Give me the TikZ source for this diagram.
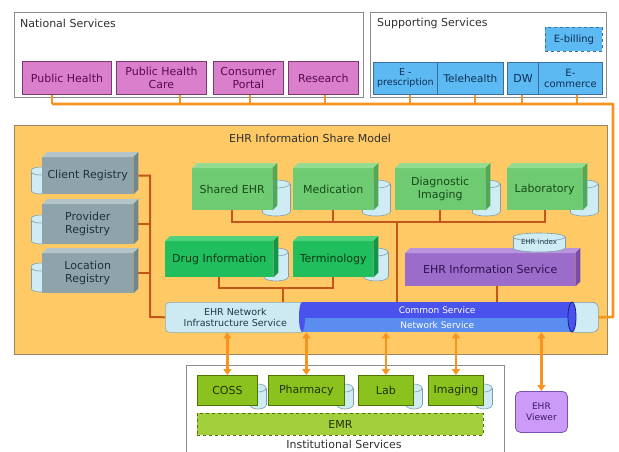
\documentclass[tikz,border=0pt]{standalone}
\usepackage{fontspec}
\setmainfont{DejaVu Sans}
\usetikzlibrary{arrows.meta}
\definecolor{framegray}{HTML}{8C8C8C}
\definecolor{titletext}{HTML}{303030}
\definecolor{pinkfill}{HTML}{D97FCB}
\definecolor{pinkline}{HTML}{7A3A70}
\definecolor{pinktext}{HTML}{5A0A50}
\definecolor{bluefill}{HTML}{5DB9F2}
\definecolor{blueline}{HTML}{3A6E9E}
\definecolor{bluetext}{HTML}{0D2F55}
\definecolor{orangeline}{HTML}{F7931E}
\definecolor{ehrfill}{HTML}{FFC966}
\definecolor{ehrline}{HTML}{9E8662}
\definecolor{regfront}{HTML}{8EA4AA}
\definecolor{regtop}{HTML}{B4C4C8}
\definecolor{regside}{HTML}{6F878D}
\definecolor{regtext}{HTML}{1F323C}
\definecolor{gfront}{HTML}{6FCB72}
\definecolor{gtop}{HTML}{93DC92}
\definecolor{gside}{HTML}{4FA956}
\definecolor{gtext}{HTML}{174A1C}
\definecolor{dfront}{HTML}{20BE5C}
\definecolor{dtop}{HTML}{4FD27C}
\definecolor{dside}{HTML}{149447}
\definecolor{dtext}{HTML}{0B3A1A}
\definecolor{pfront}{HTML}{9C6CCB}
\definecolor{ptop}{HTML}{B995DD}
\definecolor{pside}{HTML}{7A4BAA}
\definecolor{ptext}{HTML}{2E1250}
\definecolor{cylfill}{HTML}{CFEBF3}
\definecolor{cylline}{HTML}{7F9EAC}
\definecolor{brownline}{HTML}{C4561B}
\definecolor{netfill}{HTML}{CDE9F1}
\definecolor{netline}{HTML}{8AA9B5}
\definecolor{nettext}{HTML}{1E3A4A}
\definecolor{commonfill}{HTML}{4A52EE}
\definecolor{netwfill}{HTML}{5B8DF1}
\definecolor{darkblue}{HTML}{1A2080}
\definecolor{ifill}{HTML}{8CC21E}
\definecolor{iline}{HTML}{4F7400}
\definecolor{itext}{HTML}{1F3300}
\definecolor{emrfill}{HTML}{A3CF3C}
\definecolor{vfill}{HTML}{CC9BF8}
\definecolor{vline}{HTML}{7E52B0}
\definecolor{vtext}{HTML}{3E1A66}
% drum: x centre, top y, width, height
\newcommand\drumcyl[4]{%
  \filldraw[fill=cylfill,draw=cylline,line width=0.6pt] (#1,#2+#4-4) ellipse [x radius=#3/2, y radius=4];
  \fill[cylfill] (#1-#3/2,#2+4) rectangle (#1+#3/2,#2+#4-4);
  \draw[cylline,line width=0.6pt] (#1-#3/2,#2+4) -- (#1-#3/2,#2+#4-4) (#1+#3/2,#2+4) -- (#1+#3/2,#2+#4-4);
  \filldraw[fill=cylfill,draw=cylline,line width=0.6pt] (#1,#2+4) ellipse [x radius=#3/2, y radius=4];}
% 3D faces of a box node: node, top colour, side colour
\newcommand\boxfaces[3]{%
  \fill[#2] (#1.north west) -- ([shift={(5pt,5pt)}]#1.north west) -- ([shift={(5pt,5pt)}]#1.north east) -- (#1.north east) -- cycle;
  \fill[#3] (#1.north east) -- ([shift={(5pt,5pt)}]#1.north east) -- ([shift={(5pt,5pt)}]#1.south east) -- (#1.south east) -- cycle;}
\begin{document}
\begin{tikzpicture}[x=1pt,y=-1pt,
  font=\fontsize{11}{12.5}\selectfont,
  sz/.style 2 args={minimum width=#1,minimum height=#2},
  base/.style={anchor=north west,inner sep=1pt,align=center},
  frame/.style={base,draw=framegray,line width=0.9pt,fill=white},
  pinkbox/.style={base,draw=pinkline,fill=pinkfill,text=pinktext,line width=0.9pt},
  bluebox/.style={base,draw=blueline,fill=bluefill,text=bluetext,line width=0.9pt},
  regbox/.style={base,fill=regfront,text=regtext},
  gbox/.style={base,fill=gfront,text=gtext},
  dbox/.style={base,fill=dfront,text=dtext},
  pbox/.style={base,fill=pfront,text=ptext},
  ibox/.style={base,draw=iline,fill=ifill,text=itext,line width=0.8pt},
  obus/.style={draw=orangeline,line width=2.6pt},
  conn/.style={draw=brownline,line width=2pt},
  oarrow/.style={draw=orangeline,line width=2.2pt,{Triangle[length=6pt,width=8pt]}-{Triangle[length=6pt,width=8pt]}},
  title/.style={inner sep=0,text=titletext}
]
\useasboundingbox[fill=white] (0,0) rectangle (619,451);
% ---------- National services
\node[frame,sz={349}{85}] (nat) at (14,12) {};
\node[title,anchor=west] (natlabel) at (20,23) {National Services};
\node[pinkbox,sz={89}{33}] (ph) at (22,61) {Public Health};
\node[pinkbox,sz={90}{33}] (phc) at (116,61) {Public Health\\Care};
\node[pinkbox,sz={70}{33}] (cp) at (213,61) {Consumer\\Portal};
\node[pinkbox,sz={70}{33}] (res) at (288,61) {Research};
% ---------- Supporting services
\node[frame,sz={236}{85}] (sup) at (370,12) {};
\node[title,anchor=west] (suplabel) at (377,23) {Supporting Services};
\node[base,draw=blueline,dashed,fill=bluefill,text=bluetext,line width=0.9pt,sz={57}{24},font=\fontsize{10}{11}\selectfont] (ebill) at (545,27) {E-billing};
\node[bluebox,sz={64}{32},font=\fontsize{9.5}{10}\selectfont] (epr) at (373,62) {E -\\prescription};
\node[bluebox,sz={66}{32},font=\fontsize{10.5}{11}\selectfont] (tele) at (437,62) {Telehealth};
\node[bluebox,sz={31}{32}] (dw) at (507,62) {DW};
\node[bluebox,sz={64}{32},font=\fontsize{10}{11}\selectfont] (ecom) at (538,62) {E-\\commerce};
% ---------- EHR model frame
\node[base,draw=ehrline,fill=ehrfill,line width=1pt,sz={593}{229}] (ehr) at (14,125) {};
\node[title] (ehrtitle) at (310,138) {EHR Information Share Model};
% registries
\drumcyl{40}{167}{18}{27}
\drumcyl{40}{215}{18}{29}
\drumcyl{40}{263}{18}{29}
\node[regbox,sz={91}{37}] (client) at (42,157) {Client Registry};
\node[regbox,sz={91}{40}] (provider) at (42,204) {Provider\\Registry};
\node[regbox,sz={91}{40}] (location) at (42,253) {Location\\Registry};
\boxfaces{client}{regtop}{regside}
\boxfaces{provider}{regtop}{regside}
\boxfaces{location}{regtop}{regside}
% top green row
\drumcyl{276}{180}{28}{36}
\drumcyl{376}{180}{28}{36}
\drumcyl{486}{180}{28}{36}
\drumcyl{584}{180}{28}{36}
\node[gbox,sz={80}{42}] (shared) at (192,168) {Shared EHR};
\node[gbox,sz={80}{42}] (med) at (293,168) {Medication};
\node[gbox,sz={90}{42}] (diag) at (395,168) {Diagnostic\\Imaging};
\node[gbox,sz={75}{42}] (lab) at (507,168) {Laboratory};
\boxfaces{shared}{gtop}{gside}
\boxfaces{med}{gtop}{gside}
\boxfaces{diag}{gtop}{gside}
\boxfaces{lab}{gtop}{gside}
% second row
\drumcyl{276}{248}{24}{33}
\drumcyl{376}{248}{24}{33}
\node[dbox,sz={108}{36}] (drug) at (165,241) {Drug Information};
\node[dbox,sz={80}{36}] (term) at (293,241) {Terminology};
\boxfaces{drug}{dtop}{dside}
\boxfaces{term}{dtop}{dside}
\node[pbox,sz={170}{33}] (eis) at (405,253) {EHR Information Service};
\boxfaces{eis}{ptop}{pside}
\drumcyl{539}{233}{52}{19}
\node[inner sep=0,font=\fontsize{7}{8}\selectfont,text=nettext] (ehrindex) at (539,242) {EHR index};
% bottom bar
\node[base,fill=cylfill,draw=cylline,line width=0.6pt,rounded corners=6pt,sz={30}{30}] (tube) at (568,302) {};
\node[base,fill=netfill,draw=netline,line width=0.6pt,rounded corners=4pt,sz={140}{30},font=\fontsize{9.5}{10.5}\selectfont,text=nettext] (ehrnet) at (165,302) {EHR Network\\Infrastructure Service};
\node[base,fill=commonfill,sz={270}{16},inner sep=0,text=white,font=\fontsize{9}{10}\selectfont] (common) at (302,302) {Common Service};
\node[base,fill=netwfill,sz={270}{14},inner sep=0,text=white,font=\fontsize{9}{10}\selectfont] (network) at (302,318) {Network Service};
\fill[commonfill] (302,317) ellipse [x radius=3, y radius=15];
\filldraw[fill=commonfill,draw=darkblue,line width=0.8pt] (572,317) ellipse [x radius=4, y radius=15];
% internal connectors
\coordinate (regTop) at (150,175.5);
\coordinate (regBot) at (150,317);
\draw[conn] ([xshift=5pt]client.east) -- (regTop) -- (regBot) -- (ehrnet.west);
\draw[conn] ([xshift=5pt]provider.east) -- (provider.east -| regTop);
\draw[conn] ([xshift=5pt]location.east) -- (location.east -| regTop);
\coordinate (gbus) at (397,222);
\draw[conn] (shared.south) -- (shared.south |- gbus) -- (lab.south |- gbus) -- (lab.south);
\draw[conn] (med.south) -- (med.south |- gbus);
\draw[conn] (diag.south) -- (diag.south |- gbus);
\draw[conn] (gbus) -- (gbus |- common.north);
\coordinate (dbus) at (283,288);
\draw[conn] (drug.south) -- (drug.south |- dbus) -- (term.south |- dbus) -- (term.south);
\draw[conn] (dbus) -- (dbus |- ehrnet.north);
\coordinate (eisdrop) at (497,286);
\draw[conn] (eisdrop) -- (eisdrop |- common.north);
% orange bus to top services
\coordinate (busL) at (52,104);
\coordinate (busR) at (613,104);
\coordinate (busC) at (613,317);
\foreach \n/\x in {ph/52,phc/180,cp/250,res/325,epr/410,tele/475,dw/522,ecom/577}{
  \coordinate (t\n) at (\x,104);
  \draw[obus] (t\n) -- (t\n |- \n.south);
}
\draw[obus,line join=round] (busL) -- (busR) -- (busC) -- (tube.east);
% ---------- Institutional services
\node[frame,sz={318}{95}] (inst) at (186,365) {};
\node[title] (instlabel) at (344,444) {Institutional Services};
\drumcyl{258}{384}{16}{25}
\drumcyl{345}{384}{16}{25}
\drumcyl{414}{384}{16}{25}
\drumcyl{484}{384}{16}{25}
\node[ibox,sz={60}{30}] (coss) at (197,375) {COSS};
\node[ibox,sz={76}{30}] (pharm) at (268,375) {Pharmacy};
\node[ibox,sz={55}{30}] (lab2) at (358,375) {Lab};
\node[ibox,sz={55}{30}] (img) at (428,375) {Imaging};
\node[ibox,dashed,fill=emrfill,sz={286}{22}] (emr) at (197,413) {EMR};
\node[base,draw=vline,fill=vfill,text=vtext,rounded corners=5pt,line width=0.8pt,sz={52}{41},font=\fontsize{9}{10.5}\selectfont] (viewer) at (515,391) {EHR\\Viewer};
\foreach \n in {coss,pharm,lab2,img,viewer}
  \draw[oarrow] (\n.north |- network.south) -- (\n.north);
\end{tikzpicture}
\end{document}
